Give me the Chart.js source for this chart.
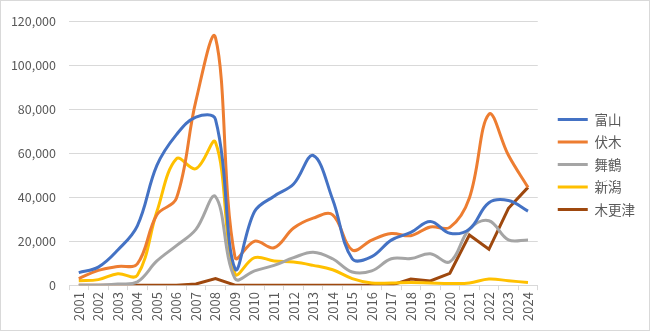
<!DOCTYPE html>
<html>
<head>
<meta charset="utf-8">
<script src="https://cdn.jsdelivr.net/npm/chart.js@4"></script>
<style>
  html, body { margin: 0; padding: 0; background: #fff; }
  .card { width: 650px; height: 331px; box-sizing: border-box; border: 1px solid #d9d9d9; position: relative; }
  .card canvas { position: absolute; left: 0; top: 0; }
</style>
</head>
<body>
<div class="card"><canvas id="portChart" width="648" height="329"></canvas></div>
<script>
const years = ['2001','2002','2003','2004','2005','2006','2007','2008','2009','2010','2011','2012',
               '2013','2014','2015','2016','2017','2018','2019','2020','2021','2022','2023','2024'];

const toyama    = [5700, 8200, 16000, 27000, 54500, 68500, 76500, 75500, 7500, 33500, 40500, 46000,
                   59000, 39000, 12000, 13000, 20500, 24000, 29000, 23600, 25500, 37500, 38500, 33700];
const fushiki   = [3000, 6700, 8500, 9700, 32000, 39500, 84000, 112700, 12700, 20000, 17000, 26000,
                   30500, 32000, 16000, 20500, 23500, 22500, 26500, 26300, 39700, 77800, 59100, 44500];
const maizuru   = [0, 0, 500, 1500, 11000, 18000, 25400, 40300, 3000, 6500, 9000, 12500,
                   15000, 12000, 6000, 6500, 12000, 12100, 14300, 10600, 25500, 29300, 20600, 20600];
const niigata   = [2000, 2500, 5200, 4500, 33500, 57500, 53000, 65000, 5200, 12500, 11000, 10500,
                   9000, 7000, 3000, 1000, 1000, 1200, 1000, 800, 1000, 2800, 2000, 1200];
const kisarazu  = [0, 0, 0, 0, 0, 0, 500, 3000, 0, 0, 0, 0,
                   0, 0, 0, 0, 0, 2800, 1900, 5400, 22800, 16300, 35000, 44500];

const yTicks = [0, 20000, 40000, 60000, 80000, 100000, 120000];

const font = "'Noto Sans CJK JP', 'Noto Sans', sans-serif";
const grey = '#595959';

function line(label, data, color, tension) {
    return { label, data, borderColor: color, backgroundColor: color, borderWidth: 3,
             pointRadius: 0, tension, fill: false };
}

// legend sits a little further right of the plot than Chart.js puts it
const legendShift = {
    id: 'legendShift',
    afterLayout(chart) {
        const lg = chart.legend;
        lg.left = chart.chartArea.right + 11;
        lg.right = chart.width;
        lg.width = lg.right - lg.left;
    }
};

new Chart(document.getElementById('portChart'), {
    type: 'line',
    data: {
        labels: years,
        datasets: [
            line('富山', toyama, '#4472C4', 0.38),
            line('伏木', fushiki, '#ED7D31', 0.38),
            line('舞鶴', maizuru, '#A5A5A5', 0.38),
            line('新潟', niigata, '#FFC000', 0.38),
            line('木更津', kisarazu, '#9E480E', 0)
        ]
    },
    plugins: [legendShift],
    options: {
        responsive: false,
        animation: false,
        layout: { padding: { top: 5, left: 0, right: 15, bottom: 7 } },
        plugins: {
            tooltip: { enabled: false },
            legend: {
                position: 'right',
                labels: {
                    usePointStyle: true, pointStyle: 'line', pointStyleWidth: 30,
                    boxWidth: 30, boxHeight: 10, padding: 9,
                    color: grey, font: { family: font, size: 13.5 }
                }
            }
        },
        scales: {
            x: {
                offset: true,
                grid: { offset: true, drawOnChartArea: false, drawTicks: true, tickLength: 5, color: '#d9d9d9' },
                border: { color: '#d9d9d9' },
                ticks: { color: grey, font: { family: font, size: 13 }, minRotation: 90, maxRotation: 90, autoSkip: false, padding: 2 }
            },
            y: {
                min: 0, max: 120000,
                afterBuildTicks: axis => { axis.ticks = yTicks.map(v => ({ value: v })); },
                afterFit: axis => { axis.width = 68; },
                grid: { color: '#d9d9d9', drawTicks: false },
                border: { display: false },
                ticks: { color: grey, font: { family: font, size: 12.5 }, padding: 13,
                         callback: v => v.toLocaleString('en-US') }
            }
        }
    }
});
</script>
</body>
</html>
